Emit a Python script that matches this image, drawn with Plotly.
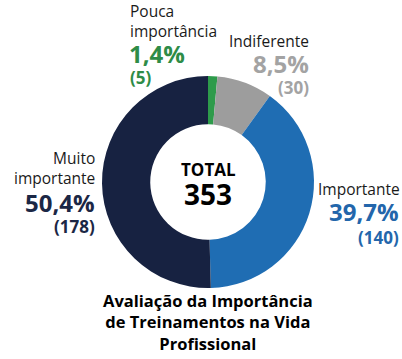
import plotly.graph_objects as go

labels = ["Pouca importância", "Indiferente", "Importante", "Muito importante"]
label_lines = ["Pouca<br>importância", "Indiferente", "Importante", "Muito<br>importante"]
counts = [5, 30, 140, 178]
percents = ["1,4%", "8,5%", "39,7%", "50,4%"]
colors = ["#2e9b4b", "#9d9d9d", "#1f6db3", "#172241"]
text_colors = ["#2e8c47", "#a3a3a3", "#2366ab", "#1b2745"]
total = 353
title_lines = ["Avaliação da Importância", "de Treinamentos na Vida", "Profissional"]

W, H = 402, 359
FONT = "Open Sans"

fig = go.Figure(go.Pie(
    labels=labels, values=counts, sort=False, direction="clockwise", rotation=0,
    hole=0.545, marker=dict(colors=colors, line=dict(width=0)),
    textinfo="none", hoverinfo="label+value+percent",
    domain=dict(x=[(208-106)/W, (208+106)/W], y=[1-288/H, 1-76/H]),
    showlegend=False,
))

ann = []
def add(text, px, py, size, color, xanchor="left", bold=False, align=None):
    ann.append(dict(text=f"<b>{text}</b>" if bold else text, x=px/W, y=1-py/H, xref="paper", yref="paper",
                    xanchor=xanchor, yanchor="middle", showarrow=False,
                    align=align or (xanchor if xanchor != "center" else "center"),
                    font=dict(family=FONT, size=size, color=color)))

LS = 15.5
PS = 24
CS = 17
# Pouca importância
add(label_lines[0], 128, 21, LS, "#1a1a1a", align="left")
add(percents[0], 127, 53, PS, text_colors[0], bold=True)
add(f"({counts[0]})", 128, 77, CS, text_colors[0], bold=True)
# Indiferente
add(label_lines[1], 311, 41, LS, "#1a1a1a", "right")
add(percents[1], 311, 64, PS, text_colors[1], "right", bold=True)
add(f"({counts[1]})", 311, 87, CS, text_colors[1], "right", bold=True)
# Muito importante
add(label_lines[3], 97, 168, LS, "#1a1a1a", "right")
add(percents[3], 97, 202, PS, text_colors[3], "right", bold=True)
add(f"({counts[3]})", 97, 226, CS, text_colors[3], "right", bold=True)
# Importante
add(label_lines[2], 402, 189, LS, "#1a1a1a", "right")
add(percents[2], 401, 211, PS, text_colors[2], "right", bold=True)
add(f"({counts[2]})", 401, 237, CS, text_colors[2], "right", bold=True)
# Center
add("TOTAL", 208, 169, 17, "#000000", "center", bold=True)
add(str(total), 208, 194, 28, "#000000", "center", bold=True)
# Title
add("<br>".join(title_lines), 208, 322, 16.5, "#000000", "center", bold=True)

fig.update_layout(width=W, height=H, margin=dict(l=0, r=0, t=0, b=0),
                  paper_bgcolor="white", plot_bgcolor="white", annotations=ann)
fig.write_html("out.html", config={"displayModeBar": False},
               post_script="document.body.style.margin='0';document.body.style.overflow='hidden';")
